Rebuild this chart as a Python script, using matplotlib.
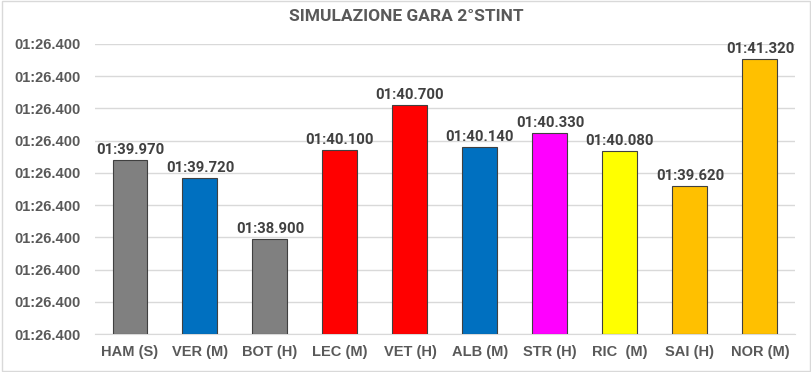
import matplotlib
matplotlib.use("Agg")
import matplotlib.pyplot as plt
from matplotlib.patches import Rectangle

drivers = ["HAM (S)", "VER (M)", "BOT (H)", "LEC (M)", "VET (H)", "ALB (M)",
           "STR (H)", "RIC  (M)", "SAI (H)", "NOR (M)"]
lap_seconds = [99.970, 99.720, 98.900, 100.100, 100.700, 100.140,
               100.330, 100.080, 99.620, 101.320]
value_labels = ["01:39.970", "01:39.720", "01:38.900", "01:40.100", "01:40.700",
                "01:40.140", "01:40.330", "01:40.080", "01:39.620", "01:41.320"]
bar_colors = ["#808080", "#0070C0", "#808080", "#FF0000", "#FF0000",
              "#0070C0", "#FF00FF", "#FFFF00", "#FFC000", "#FFC000"]
y_min = 97.632
y_step = 0.432
n_ticks = 10
y_ticks = [y_min + i * y_step for i in range(n_ticks)]
y_tick_labels = ["01:26.400"] * n_ticks

fig = plt.figure(figsize=(8.12, 3.72), dpi=100)
ax = fig.add_axes([0.117, 0.102, 0.862, 0.780])

x = list(range(len(drivers)))
bars = ax.bar(x, [v - y_min for v in lap_seconds], bottom=y_min, width=0.5,
              color=bar_colors, edgecolor="#404040", linewidth=0.8, zorder=3)

for xi, v, lab in zip(x, lap_seconds, value_labels):
    ax.text(xi, v + 0.04, lab, ha="center", va="bottom", fontsize=10.7,
            fontweight="bold", color="#404040", family="Roboto", zorder=4)

ax.set_xlim(-0.5, len(drivers) - 0.5)
ax.set_ylim(y_ticks[0], y_ticks[-1])
ax.set_yticks(y_ticks)
ax.set_yticklabels(y_tick_labels)
ax.set_xticks(x)
ax.set_xticklabels(drivers)
ax.yaxis.grid(True, color="#D9D9D9", linewidth=1, zorder=0)
for s in ["top", "right", "left"]:
    ax.spines[s].set_visible(False)
ax.spines["bottom"].set_color("#D9D9D9")
ax.tick_params(axis="both", length=0, colors="#595959")
for t in ax.get_yticklabels():
    t.set_fontsize(10.5); t.set_fontweight("bold"); t.set_family("Liberation Sans")
for t in ax.get_xticklabels():
    t.set_fontsize(10.5); t.set_fontweight("bold"); t.set_family("Liberation Sans")
ax.tick_params(axis="y", pad=10)
ax.tick_params(axis="x", pad=8)

fig.text(0.5, 0.955, "SIMULAZIONE GARA 2°STINT", ha="center", va="center",
         fontsize=12.5, fontweight="bold", color="#595959", family="Roboto")

fig.patches.append(Rectangle((0.002, 0.003), 0.996, 0.994, transform=fig.transFigure,
                             fill=False, edgecolor="#D9D9D9", linewidth=1))

fig.savefig("out.png", dpi=100)
